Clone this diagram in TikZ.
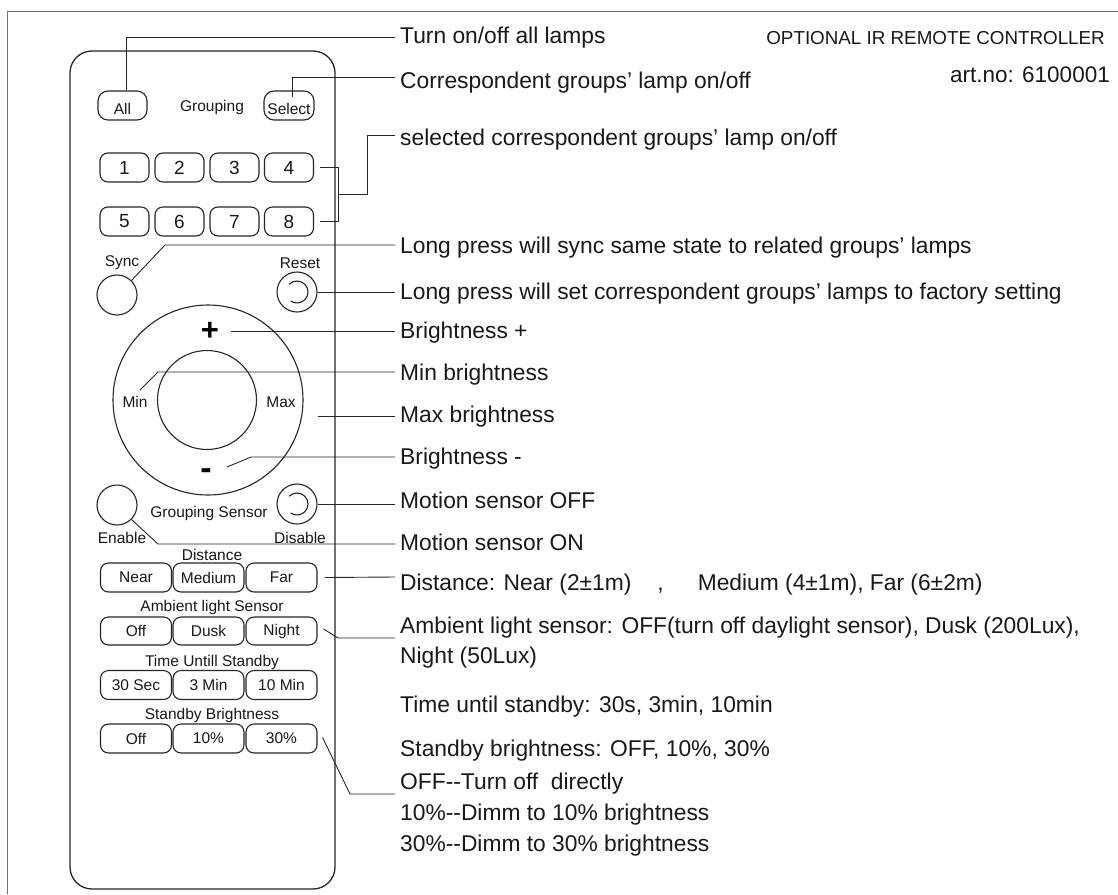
\documentclass[tikz,border=0pt]{standalone}
\usepackage{fontspec}
\setmainfont{Liberation Sans}
\begin{document}
\begin{tikzpicture}[x=1pt,y=-1pt,
  body/.style={draw=black!85, line width=1.3pt, rounded corners=22pt},
  btn/.style={draw=black!85, line width=1.1pt, rounded corners=8pt, inner sep=0pt, text=black!90, font=\fontsize{15.5}{18}\selectfont},
  topbtn/.style={btn, rounded corners=10pt, minimum height=29pt, text height=17pt, text depth=0pt},
  numbtn/.style={btn, minimum width=49pt, minimum height=29pt, font=\fontsize{19}{22}\selectfont},
  wbtn/.style={btn, minimum width=71pt, minimum height=29pt},
  rnd/.style={draw=black!85, line width=1.1pt, circle, inner sep=0pt, minimum size=40pt},
  lbl/.style={inner sep=0pt, text=black!90, font=\fontsize{15.5}{18}\selectfont},
  desc/.style={anchor=base west, inner sep=0pt, text=black!90, font=\fontsize{22.8}{27}\selectfont},
  conn/.style={line width=0.9pt, draw=black!85},
  innerarc/.style={line width=1.1pt, draw=black!85}
]
\useasboundingbox (0,0) rectangle (1118,894);
\fill[white] (0,0) rectangle (1118,894);
% frame
\draw[black!55, line width=1pt] (7,894) -- (7,11) -- (1118,11);
% remote body
\draw[body] (70,51) rectangle (335,889);

% top buttons
\node[topbtn, minimum width=49pt] (all) at (122.5,105.5) {All};
\node[lbl] (grp) at (212,107) {Grouping};
\node[topbtn, minimum width=50pt] (sel) at (289,105.5) {Select};

% number buttons
\node[numbtn] (b1) at (124.5,167.5) {1};
\node[numbtn] (b2) at (179.5,167.5) {2};
\node[numbtn] (b3) at (234.5,167.5) {3};
\node[numbtn] (b4) at (289,167.5) {4};
\node[numbtn] (b5) at (124.5,221.5) {5};
\node[numbtn] (b6) at (179.5,221.5) {6};
\node[numbtn] (b7) at (234.5,221.5) {7};
\node[numbtn] (b8) at (289,221.5) {8};

% sync / reset
\node[lbl] (synct) at (122,263) {Sync};
\node[lbl] (resett) at (300,263) {Reset};
\node[rnd] (sync) at (117,295) {};
\node[rnd] (reset) at (297,292) {};
\draw[innerarc] ([shift={(135:11pt)}]reset.center) arc[start angle=135, end angle=-125, radius=11pt];

% ring
\node[circle, draw=black!85, line width=1.1pt, minimum size=190pt, inner sep=0pt] (ring) at (208,400) {};
\node[circle, draw=black!85, line width=1.1pt, minimum size=99pt, inner sep=0pt] (disc) at (207,400) {};
\node[inner sep=0pt, font=\fontsize{31}{33}\bfseries] (plus) at (210,331) {+};
\node[inner sep=0pt, font=\fontsize{34}{36}\bfseries] (minus) at (206,474) {-};
\node[lbl] (mint) at (135,402) {Min};
\node[lbl] (maxt) at (281,402) {Max};

% grouping sensor
\node[rnd] (enable) at (117,505) {};
\node[rnd] (disable) at (297,504) {};
\draw[innerarc] ([shift={(135:11pt)}]disable.center) arc[start angle=135, end angle=-125, radius=11pt];
\node[lbl] (gst) at (209,513) {Grouping Sensor};
\node[lbl] (ent) at (122,538) {Enable};
\node[lbl] (dst) at (300,538) {Disable};

% distance
\node[lbl] (distt) at (212,555) {Distance};
\node[wbtn] (near) at (136,577.5) {Near};
\node[wbtn] (medium) at (208.5,577.5) {Medium};
\node[wbtn] (far) at (281.5,577.5) {Far};

% ambient
\node[lbl] (ambt) at (212,607) {Ambient light Sensor};
\node[wbtn, minimum height=28pt] (aoff) at (136,631) {Off};
\node[wbtn, minimum height=28pt] (dusk) at (208.5,631) {Dusk};
\node[wbtn, minimum height=28pt] (night) at (281.5,631) {Night};

% time
\node[lbl] (timet) at (212,662) {Time Untill Standby};
\node[wbtn] (t30) at (136,685) {30 Sec};
\node[wbtn] (t3) at (208.5,685) {3 Min};
\node[wbtn] (t10) at (281.5,685) {10 Min};

% standby
\node[lbl] (sbt) at (212,715) {Standby Brightness};
\node[wbtn] (soff) at (136,738.5) {Off};
\node[wbtn] (s10) at (208.5,738.5) {10\%};
\node[wbtn] (s30) at (281.5,738.5) {30\%};

% title
\node[anchor=base east, inner sep=0pt, text=black!90, font=\fontsize{18.8}{22}\selectfont] (title) at (1105,44) {OPTIONAL IR REMOTE CONTROLLER};
\node[anchor=base east, inner sep=0pt, text=black!90, font=\fontsize{22.5}{27}\selectfont] (artno) at (1110,82) {art.no: 6100001};

% descriptions
\node[desc] (d1) at (400,43) {Turn on/off all lamps};
\node[desc] (d2) at (400,88) {Correspondent groups’ lamp on/off};
\node[desc] (d3) at (400,145) {selected correspondent groups’ lamp on/off};
\node[desc] (d4) at (400,253) {Long press will sync same state to related groups’ lamps};
\node[desc] (d5) at (400,299) {Long press will set correspondent groups’ lamps to factory setting};
\node[desc] (d6) at (400,338) {Brightness +};
\node[desc] (d7) at (400,380) {Min brightness};
\node[desc] (d8) at (400,422) {Max brightness};
\node[desc] (d9) at (400,464) {Brightness -};
\node[desc] (d10) at (400,508) {Motion sensor OFF};
\node[desc] (d11) at (400,550) {Motion sensor ON};
\node[desc] (d12) at (400,590) {Distance: Near (2±1m)\hspace{26pt},\hspace{34pt}Medium (4±1m), Far (6±2m)};
\node[desc] (d13) at (400,633) {Ambient light sensor: OFF(turn off daylight sensor), Dusk (200Lux),};
\node[desc] (d13b) at (400,663) {Night (50Lux)};
\node[desc] (d14) at (400,712) {Time until standby: 30s, 3min, 10min};
\node[desc] (d15) at (400,756) {Standby brightness: OFF, 10\%, 30\%};
\node[desc] (d16) at (400,789) {OFF-{}-Turn off\ \ directly};
\node[desc] (d16b) at (400,820) {10\%-{}-Dimm to 10\% brightness};
\node[desc] (d16c) at (400,851) {30\%-{}-Dimm to 30\% brightness};

% connector ends
\coordinate (e1) at (395,37);
\coordinate (e2) at (395,77);
\coordinate (e3) at (395,135);
\coordinate (e4) at (395,245);
\coordinate (e5) at (395,292);
\coordinate (e6) at (395,331);
\coordinate (e7) at (395,372);
\coordinate (e8) at (395,416);
\coordinate (e9) at (395,457);
\coordinate (e10) at (395,504);
\coordinate (e11) at (395,544);
\coordinate (e12) at (395,577);
\coordinate (e13) at (395,638);
\coordinate (e14) at (395,794);
\coordinate (bk) at (338.5,194.5);

% connectors
\draw[conn] ([xshift=3.5pt]all.north) |- (e1);
\draw[conn] ([xshift=3pt,yshift=-7pt]sel.north) |- (e2);
\draw[conn] ([xshift=6pt]b4.east) -| (bk) |- ([xshift=6pt]b8.east);
\draw[conn] (bk) -- ++(28.5,0) |- (e3);
\draw[conn] (sync.45) -- ([xshift=-230pt]e4) -- (e4);
\draw[conn] (reset.east) -- (e5);
\draw[conn] ([xshift=12pt]plus.east) -- (e6);
\draw[conn] ([shift={(5,-12)}]mint.center) -- ([xshift=-237pt]e7) -- (e7);
\draw[conn] ([xshift=14pt,yshift=-16pt]ring.east) -- (e8);
\draw[conn] ([shift={(21,-7)}]minus.center) -- ([xshift=-144pt]e9) -- (e9);
\draw[conn] (disable.east) -- (e10);
\draw[conn] (enable.-45) -- ([xshift=-237pt]e11) -- (e11);
\draw[conn] ([xshift=7pt]far.east) -- (e12);
\draw[conn] ([shift={(6,-2)}]night.east) -- ([xshift=-57pt]e13) -- (e13);
\draw[conn] ([shift={(5,-1)}]s30.east) -- ([xshift=-45pt]e14) -- (e14);
\end{tikzpicture}
\end{document}
